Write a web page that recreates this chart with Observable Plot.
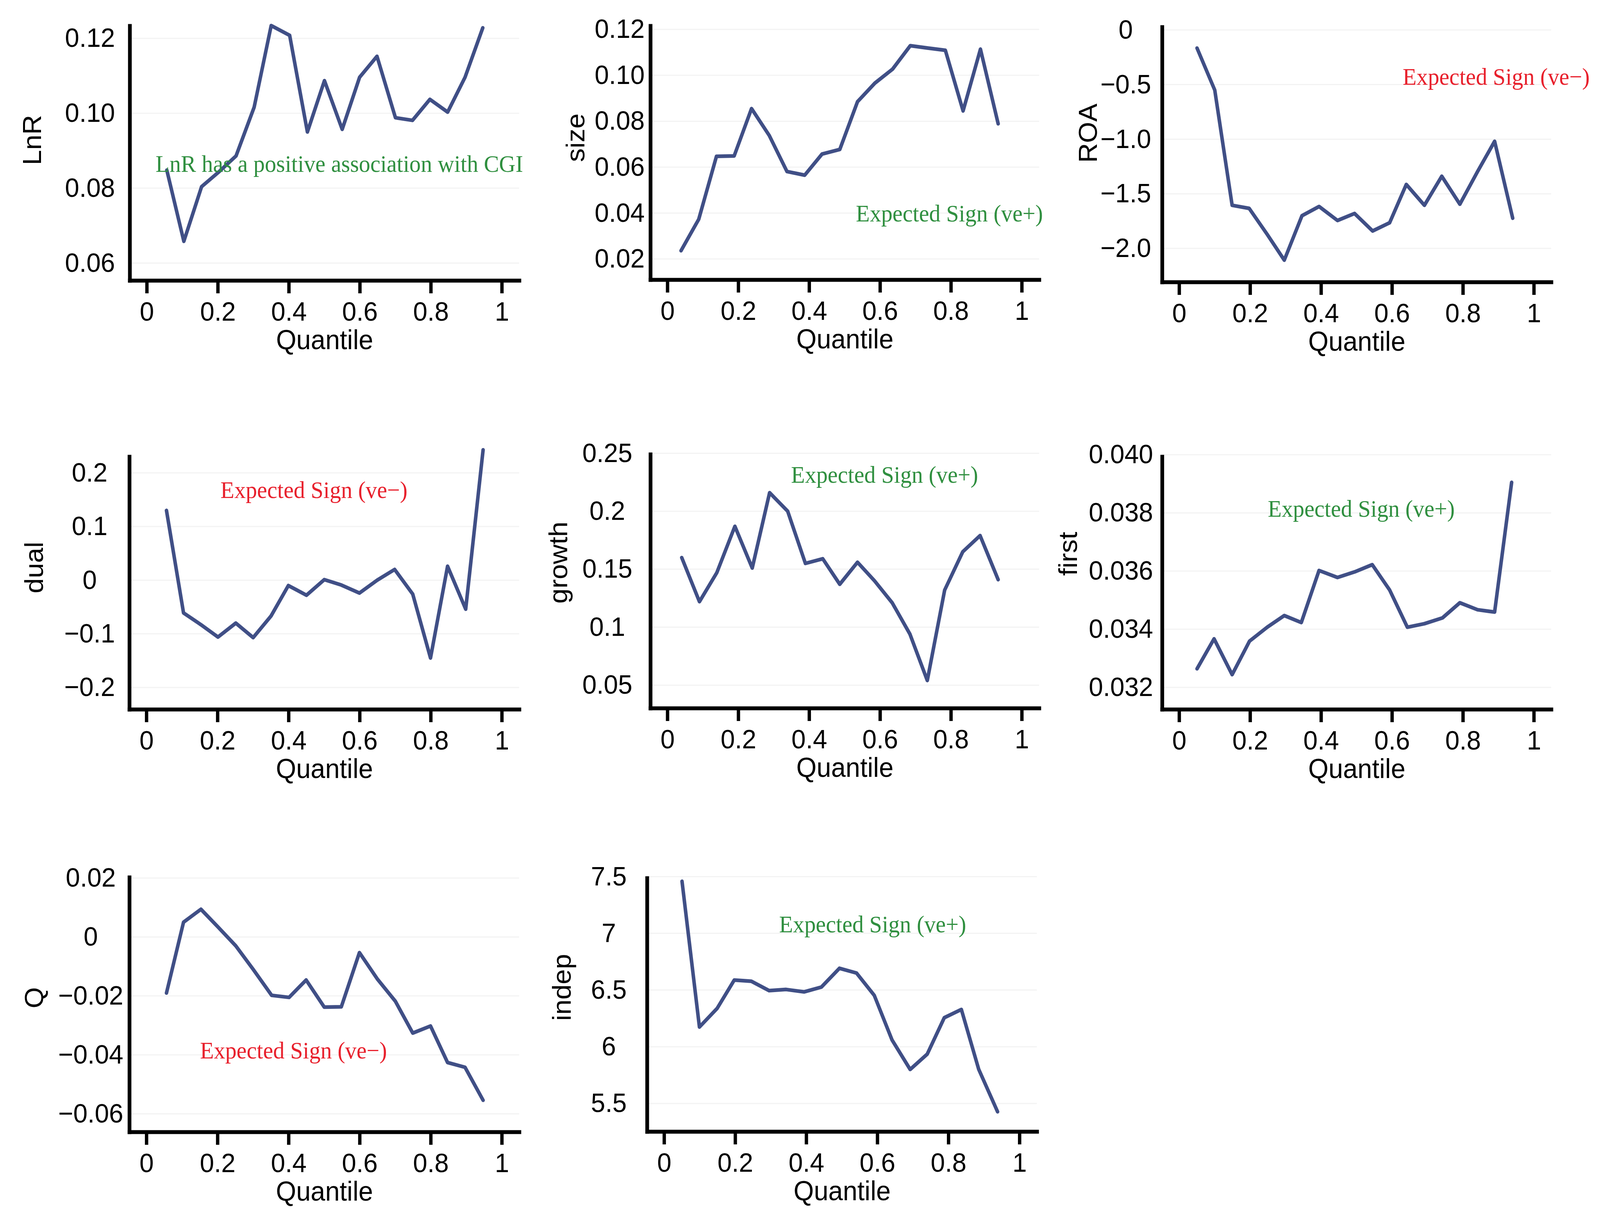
<!DOCTYPE html>
<html>
<head>
<meta charset="utf-8">
<script src="https://cdn.jsdelivr.net/npm/d3@7"></script>
<script src="https://cdn.jsdelivr.net/npm/@observablehq/plot@0.6"></script>
<style>
  html, body { margin: 0; padding: 0; background: #fff; overflow: hidden; }
  #stage { position: absolute; left: 0; top: 0; width: 4293px; height: 3121px; transform-origin: 0 0; background: #fff; }
  .panel { position: absolute; }
  .panel svg { max-width: none !important; }
</style>
</head>
<body>
<div id="stage"></div>
<script>
// ---------- shared axis text ----------
const xLabel = "Quantile";
const xTicks = [0, 0.2, 0.4, 0.6, 0.8, 1];
const xTickLabels = ["0", "0.2", "0.4", "0.6", "0.8", "1"];

// ---------- LnR ----------
const lnrQ = [0.056,0.104,0.154,0.201,0.251,0.302,0.350,0.402,0.452,0.500,0.550,0.599,0.648,0.700,0.748,0.797,0.847,0.896,0.946];
const lnrV = [0.0848,0.0658,0.0804,0.0842,0.0886,0.1016,0.1234,0.1208,0.0950,0.1087,0.0957,0.1096,0.1152,0.0988,0.0981,0.1037,0.1003,0.1096,0.1228];
const lnrTicks = [0.06, 0.08, 0.10, 0.12];
const lnrTickLabels = ["0.06", "0.08", "0.10", "0.12"];
const lnrNote = "LnR has a positive association with CGI";

// ---------- size ----------
const sizeQ = [0.038,0.088,0.138,0.188,0.237,0.287,0.337,0.387,0.436,0.486,0.536,0.585,0.635,0.685,0.734,0.784,0.834,0.883,0.933];
const sizeV = [0.0236,0.0373,0.0647,0.0649,0.0855,0.0738,0.0581,0.0565,0.0657,0.0677,0.0885,0.0966,0.1027,0.1129,0.1119,0.1109,0.0845,0.1114,0.0789];
const sizeTicks = [0.02, 0.04, 0.06, 0.08, 0.10, 0.12];
const sizeTickLabels = ["0.02", "0.04", "0.06", "0.08", "0.10", "0.12"];
const sizeNote = "Expected Sign (ve+)";

// ---------- ROA ----------
const roaQ = [0.050,0.100,0.149,0.197,0.248,0.296,0.346,0.394,0.446,0.494,0.545,0.593,0.640,0.691,0.740,0.791,0.841,0.889,0.940];
const roaV = [-0.166,-0.55,-1.605,-1.633,-1.872,-2.107,-1.70,-1.616,-1.744,-1.68,-1.84,-1.765,-1.414,-1.605,-1.339,-1.595,-1.296,-1.019,-1.723];
const roaTicks = [0, -0.5, -1.0, -1.5, -2.0];
const roaTickLabels = ["0", "\u22120.5", "\u22121.0", "\u22121.5", "\u22122.0"];
const roaNote = "Expected Sign (ve\u2212)";

// ---------- dual ----------
const dualQ = [0.056,0.104,0.153,0.201,0.251,0.300,0.350,0.399,0.450,0.500,0.548,0.599,0.649,0.698,0.749,0.799,0.847,0.898,0.947];
const dualV = [0.130,-0.061,-0.083,-0.106,-0.080,-0.107,-0.067,-0.010,-0.028,0.001,-0.009,-0.024,0.000,0.020,-0.026,-0.145,0.026,-0.054,0.243];
const dualTicks = [0.2, 0.1, 0, -0.1, -0.2];
const dualTickLabels = ["0.2", "0.1", "0", "\u22120.1", "\u22120.2"];
const dualNote = "Expected Sign (ve\u2212)";

// ---------- growth ----------
const growthQ = [0.040,0.090,0.139,0.190,0.239,0.288,0.339,0.389,0.438,0.486,0.536,0.584,0.634,0.684,0.733,0.782,0.833,0.882,0.933];
const growthV = [0.160,0.122,0.147,0.187,0.151,0.216,0.200,0.155,0.159,0.137,0.156,0.140,0.121,0.094,0.054,0.132,0.165,0.179,0.141];
const growthTicks = [0.25, 0.2, 0.15, 0.1, 0.05];
const growthTickLabels = ["0.25", "0.2", "0.15", "0.1", "0.05"];
const growthNote = "Expected Sign (ve+)";

// ---------- first ----------
const firstQ = [0.050,0.098,0.149,0.198,0.248,0.296,0.344,0.394,0.446,0.494,0.544,0.593,0.643,0.691,0.742,0.791,0.841,0.889,0.937];
const firstV = [0.03264,0.03367,0.03244,0.03359,0.03407,0.03447,0.03423,0.03602,0.03578,0.03597,0.03622,0.03535,0.03407,0.03419,0.03439,0.03491,0.03467,0.03459,0.03905];
const firstTicks = [0.040, 0.038, 0.036, 0.034, 0.032];
const firstTickLabels = ["0.040", "0.038", "0.036", "0.034", "0.032"];
const firstNote = "Expected Sign (ve+)";

// ---------- Q ----------
const qQ = [0.056,0.104,0.153,0.201,0.251,0.300,0.352,0.401,0.449,0.500,0.548,0.599,0.649,0.700,0.749,0.799,0.847,0.896,0.947];
const qV = [-0.0190,0.0050,0.0094,0.0034,-0.0030,-0.0110,-0.0198,-0.0205,-0.0146,-0.0238,-0.0237,-0.0053,-0.0142,-0.0218,-0.0326,-0.0302,-0.0426,-0.0442,-0.0554];
const qTicks = [0.02, 0, -0.02, -0.04, -0.06];
const qTickLabels = ["0.02", "0", "\u22120.02", "\u22120.04", "\u22120.06"];
const qNote = "Expected Sign (ve\u2212)";

// ---------- indep ----------
const indepQ = [0.050,0.099,0.149,0.197,0.245,0.295,0.343,0.394,0.442,0.493,0.541,0.591,0.641,0.692,0.740,0.788,0.836,0.885,0.938];
const indepV = [7.459,6.174,6.339,6.588,6.578,6.495,6.505,6.484,6.526,6.692,6.650,6.453,6.060,5.800,5.935,6.256,6.329,5.800,5.427];
const indepTicks = [7.5, 7, 6.5, 6, 5.5];
const indepTickLabels = ["7.5", "7", "6.5", "6", "5.5"];
const indepNote = "Expected Sign (ve+)";

// ---------- styles ----------
const GREEN = "#2f8f3f";
const RED = "#e8202c";
const LINE = "#404f86";

const panels = [
  {label: "LnR",    q: lnrQ,    v: lnrV,    ticks: lnrTicks,    tickLabels: lnrTickLabels,    note: lnrNote,    noteColor: GREEN,
   L: 348,  T: 66,   W: 1045, H: 652, yDomain: [0.0553, 0.1233],   tickOff: 107, labOff: 261, labDy: -34, nDx: 69,  nDy: 354},
  {label: "size",   q: sizeQ,   v: sizeV,   ticks: sizeTicks,   tickLabels: sizeTickLabels,   note: sizeNote,   noteColor: GREEN,
   L: 1745, T: 66,   W: 1043, H: 650, yDomain: [0.0109, 0.1215],   tickOff: 83,  labOff: 200, labDy: -39, nDx: 551, nDy: 481},
  {label: "ROA",    q: roaQ,    v: roaV,    ticks: roaTicks,    tickLabels: roaTickLabels,    note: roaNote,    noteColor: RED,
   L: 3118, T: 69,   W: 1044, H: 653, yDomain: [-2.309, 0.026],    tickOff: 98,  labOff: 198, labDy: -55, nDx: 645, nDy: 128},
  {label: "dual",   q: dualQ,   v: dualV,   ticks: dualTicks,   tickLabels: dualTickLabels,   note: dualNote,   noteColor: RED,
   L: 347,  T: 1169, W: 1046, H: 647, yDomain: [-0.241, 0.230],    tickOff: 107, labOff: 255, labDy: -40, nDx: 244, nDy: 86},
  {label: "growth", q: growthQ, v: growthV, ticks: growthTicks, tickLabels: growthTickLabels, note: growthNote, noteColor: GREEN,
   L: 1745, T: 1163, W: 1043, H: 650, yDomain: [0.030, 0.249],     tickOff: 116, labOff: 246, labDy: -48, nDx: 377, nDy: 53},
  {label: "first",  q: firstQ,  v: firstV,  ticks: firstTicks,  tickLabels: firstTickLabels,  note: firstNote,  noteColor: GREEN,
   L: 3118, T: 1169, W: 1044, H: 647, yDomain: [0.03124, 0.03993], tickOff: 111, labOff: 251, labDy: -75, nDx: 283, nDy: 134},
  {label: "Q",      q: qQ,      v: qV,      ticks: qTicks,      tickLabels: qTickLabels,      note: qNote,      noteColor: RED,
   L: 347,  T: 2246, W: 1046, H: 652, yDomain: [-0.0662, 0.0202],  tickOff: 104, labOff: 255, labDy: -18, nDx: 189, nDy: 444},
  {label: "indep",  q: indepQ,  v: indepV,  ticks: indepTicks,  tickLabels: indepTickLabels,  note: indepNote,  noteColor: GREEN,
   L: 1736, T: 2248, W: 1046, H: 649, yDomain: [5.251, 7.486],     tickOff: 103, labOff: 228, labDy: -45, nDx: 354, nDy: 119}
];

const ML = 340, MR = 40, MT = 66, MB = 220;
const SANS = "'Liberation Sans', Arial, Helvetica, sans-serif";
const SERIF = "'Liberation Serif', 'Times New Roman', Times, serif";
const stage = document.getElementById("stage");

for (const p of panels) {
  const data = p.q.map((q, i) => ({q, v: p.v[i]}));
  const yLab = new Map(p.ticks.map((t, i) => [t, p.tickLabels[i]]));
  const xLab = new Map(xTicks.map((t, i) => [t, xTickLabels[i]]));
  const chart = Plot.plot({
    width: ML + p.W + MR,
    height: MT + p.H + MB,
    marginLeft: ML, marginRight: MR, marginTop: MT, marginBottom: MB,
    style: {fontFamily: SANS, fontSize: "69px", color: "#000", background: "transparent", overflow: "visible"},
    x: {domain: [-0.048, 1.049], label: null},
    y: {domain: p.yDomain, label: null},
    marks: [
      Plot.gridY(p.ticks, {stroke: "#e8e8e8", strokeOpacity: 0.5, strokeWidth: 3}),
      Plot.line(data, {x: "q", y: "v", stroke: LINE, strokeWidth: 9.5, strokeLinejoin: "round", strokeLinecap: "round"}),
      Plot.frame({anchor: "left", stroke: "#000", strokeWidth: 10, strokeLinecap: "square"}),
      Plot.frame({anchor: "bottom", stroke: "#000", strokeWidth: 10, strokeLinecap: "square"}),
      Plot.axisY({ticks: p.ticks, tickSize: 0, tickPadding: p.tickOff, textAnchor: "middle",
                  tickFormat: d => yLab.get(d), fontSize: 69, fill: "#000", label: null}),
      Plot.axisX({ticks: xTicks, tickSize: 33, tickPadding: 20, strokeWidth: 9, stroke: "#000",
                  tickFormat: d => xLab.get(d), fontSize: 69, fill: "#000", label: null}),
      Plot.text([p.label], {text: d => d, frameAnchor: "left", rotate: -90, dx: -p.labOff, dy: p.labDy,
                            textAnchor: "middle", lineAnchor: "middle", fontSize: 70, fill: "#000"}),
      Plot.text([xLabel], {text: d => d, frameAnchor: "bottom", dy: 153,
                           textAnchor: "middle", lineAnchor: "middle", fontSize: 70, fill: "#000"}),
      Plot.text([p.note], {text: d => d, frameAnchor: "top-left", dx: p.nDx, dy: p.nDy,
                           textAnchor: "start", lineAnchor: "middle", fontSize: 61, fontFamily: SERIF, fill: p.noteColor})
    ]
  });
  const div = document.createElement("div");
  div.className = "panel";
  div.style.left = (p.L - ML) + "px";
  div.style.top = (p.T - MT) + "px";
  div.appendChild(chart);
  stage.appendChild(div);
}

// fit the 4293x3121 stage into the actual viewport
const kx = Math.min(1, window.innerWidth / 4293);
const ky = Math.min(1, window.innerHeight / 3121);
stage.style.transform = "scale(" + kx + "," + ky + ")";
</script>
</body>
</html>
